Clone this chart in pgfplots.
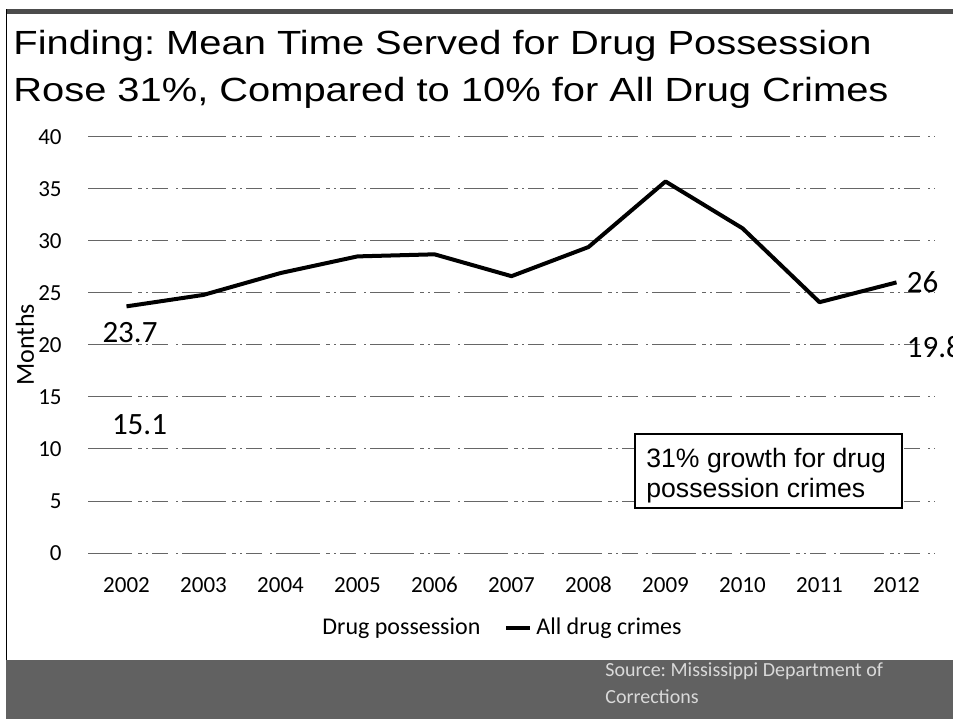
\documentclass[border=0pt]{standalone}
\usepackage{fontspec}
\setmainfont{Carlito}
\newfontfamily\arial{Liberation Sans}
\usepackage{pgfplots}
\pgfplotsset{compat=1.18}
\usepackage{pgfplotstable}
\frenchspacing

% Mean time served (months), all drug crimes
\pgfplotstableread{
year months
2002 23.7
2003 24.8
2004 26.9
2005 28.5
2006 28.7
2007 26.6
2008 29.4
2009 35.7
2010 31.2
2011 24.1
2012 26
}\alldrug

% Mean time served (months), drug possession: first and last year
\pgfplotstableread{
year months
2002 15.1
2012 19.8
}\possession

\begin{document}
\begin{tikzpicture}
% slide size: 953 x 719 px at 0.5pt per px
\path[use as bounding box, clip] (0pt,0pt) rectangle (476.5pt,-359.5pt);

\begin{scope}[x=0.5pt,y=-0.5pt]
\fill[black!70] (6,9) rectangle (953,14);
\draw[black, line width=0.6pt] (6.5,9) -- (6.5,719);
\node[anchor=base west, inner sep=0pt, font=\arial\fontsize{16.75}{20}\selectfont] at (13,54)
  {\scalebox{1.19}[1]{Finding: Mean Time Served for Drug Possession}};
\node[anchor=base west, inner sep=0pt, font=\arial\fontsize{16.75}{20}\selectfont] at (13,101)
  {\scalebox{1.19}[1]{Rose 31\%, Compared to 10\% for All Drug Crimes}};
\end{scope}

\begin{axis}[
  at={(44pt,-276.5pt)}, anchor=south west,
  scale only axis, width=423.5pt, height=208.15pt,
  xmin=2001.5, xmax=2012.5, ymin=0, ymax=40,
  xtick={2002,2003,...,2012}, ytick={0,5,...,40},
  /pgf/number format/assume math mode=true,
  x tick label style={/pgf/number format/set thousands separator={}, anchor=center, inner sep=0pt, yshift=-16pt, font=\fontsize{11.5}{13}\selectfont},
  y tick label style={anchor=east, inner sep=0pt, xshift=-13pt, font=\fontsize{11.5}{13}\selectfont},
  axis line style={draw=none},
  major tick length=0pt,
  ymajorgrids,
  major grid style={black!60, line width=0.45pt, dash pattern=on 22pt off 3pt on 2pt off 2pt on 1pt off 2pt on 8pt off 4pt on 1pt off 2pt},
  ylabel={Months},
  ylabel style={at={(axis description cs:-0.0744,0.5)}, anchor=center, font=\fontsize{13}{15}\selectfont},
  legend columns=2,
  legend style={at={(axis description cs:0.4746,-0.179)}, anchor=center, draw=none, fill=none,
    font=\fontsize{12}{14}\selectfont, inner sep=0pt,
    /tikz/every even column/.append style={column sep=10pt}},
  legend image code/.code={\draw[#1] (0pt,0pt) -- (12pt,0pt);},
]
\addplot[draw=none, legend image code/.code={\path (0pt,0pt) -- (12pt,0pt);}]
  table[x=year, y=months] {\possession};
\addlegendentry{Drug possession}
\addplot[black, line width=2pt, line join=round] table[x=year, y=months] {\alldrug};
\addlegendentry{All drug crimes}

% value labels at the first and last year
\addplot[draw=none, forget plot, nodes near coords,
  nodes near coords style={anchor=center, inner sep=0pt, xshift=1.75pt, yshift=-13pt, font=\fontsize{15.5}{18}\selectfont}]
  coordinates {(2002,23.7)};
\addplot[draw=none, forget plot, nodes near coords,
  nodes near coords style={anchor=center, inner sep=0pt, xshift=6.5pt, yshift=-14.5pt, font=\fontsize{15.5}{18}\selectfont}]
  coordinates {(2002,15.1)};
\addplot[draw=none, forget plot, nodes near coords,
  nodes near coords style={anchor=west, inner sep=0pt, xshift=5pt, font=\fontsize{15.5}{18}\selectfont}]
  coordinates {(2012,26) (2012,19.8)};
\end{axis}

\begin{scope}[x=0.5pt,y=-0.5pt]
% annotation box
\draw[black, line width=1pt, fill=white] (635,434) rectangle (902,508);
\node[anchor=base west, inner sep=0pt, font=\arial\fontsize{13.3}{15}\selectfont] at (646,467) {31\% growth for drug};
\node[anchor=base west, inner sep=0pt, font=\arial\fontsize{13.3}{15}\selectfont] at (646,497) {possession crimes};
% footer band with source
\fill[black!62] (6,660) rectangle (953,719);
\node[anchor=base west, inner sep=0pt, text=black!15, font=\fontsize{10}{12}\selectfont] at (605,676) {Source: Mississippi Department of};
\node[anchor=base west, inner sep=0pt, text=black!15, font=\fontsize{10}{12}\selectfont] at (605,703) {Corrections};
\end{scope}
\end{tikzpicture}
\end{document}
